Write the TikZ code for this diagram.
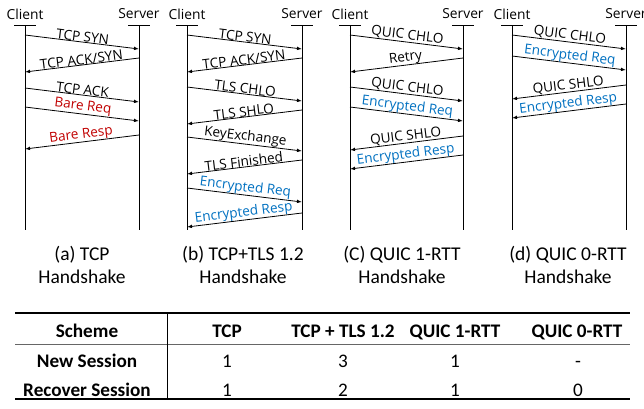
\documentclass[tikz,border=0pt]{standalone}
\usepackage{fontspec}
\setmainfont{Carlito}
\newfontfamily\labelfont{Open Sans}
\usetikzlibrary{arrows.meta}
\definecolor{bareRed}{RGB}{192,0,0}
\definecolor{encBlue}{RGB}{0,112,192}
\tikzstyle{endpoint} = [font=\labelfont\fontsize{13.8}{15}\selectfont, inner sep=0pt]
\tikzstyle{lifeline} = [line width=1pt]
\tikzstyle{message} = [line width=0.8pt, -{Latex[length=5pt,width=3.6pt]}]
\tikzstyle{msgLabel} = [font=\labelfont\fontsize{13.6}{15}\selectfont,
   midway, above, sloped, inner sep=0pt]
\tikzstyle{caption} = [font=\fontsize{19.5}{22.5}\selectfont, align=center]
\tikzstyle{headCell} = [font=\bfseries\fontsize{19.2}{22}\selectfont, anchor=base]
\tikzstyle{numCell} = [font=\fontsize{19.2}{22}\selectfont, anchor=base]

\begin{document}
\begin{tikzpicture}[x=1pt, y=-1pt]
  \useasboundingbox (0,0) rectangle (644,408);

  % client and server of each handshake, with their lifelines
  \foreach \p/\cx/\sx in {a/25/139, b/187/302, c/350/463, d/512/626} {
    \node[endpoint] (\p-client) at (\cx,14) {Client};
    \node[endpoint] (\p-server) at (\sx,14) {Server};
    \coordinate (\p-c) at (\cx,25);
    \coordinate (\p-s) at (\sx,25);
    \draw[lifeline] ([xshift=-11pt]\p-c) -- ([xshift=11pt]\p-c);
    \draw[lifeline] ([xshift=-11pt]\p-s) -- ([xshift=11pt]\p-s);
    \draw[lifeline] (\p-c) -- (\p-c |- 0,230);
    \draw[lifeline] (\p-s) -- (\p-s |- 0,230);
  }

  % (a) plain TCP
  \foreach \y/\src/\dst/\txt/\col in {35/c/s/TCP SYN/black,
      58/s/c/{TCP ACK/SYN}/black, 88/c/s/TCP ACK/black,
      107/c/s/Bare Req/bareRed, 135/s/c/Bare Resp/bareRed}
    \draw[message] (a-\src |- 0,\y) -- node[msgLabel, text=\col] {\txt} (a-\dst |- 0,\y+14);

  % (b) TCP + TLS 1.2
  \foreach \y/\src/\dst/\txt/\col in {35/c/s/TCP SYN/black,
      58/s/c/{TCP ACK/SYN}/black, 87/c/s/TLS CHLO/black,
      110/s/c/TLS SHLO/black, 137/c/s/KeyExchange/black,
      160/s/c/TLS Finished/black, 188/c/s/Encrypted Req/encBlue,
      213/s/c/Encrypted Resp/encBlue}
    \draw[message] (b-\src |- 0,\y) -- node[msgLabel, text=\col] {\txt} (b-\dst |- 0,\y+14);

  % (c) QUIC 1-RTT
  \foreach \y/\src/\dst/\txt/\col in {35/c/s/QUIC CHLO/black,
      58/s/c/Retry/black, 87/c/s/QUIC CHLO/black,
      107/c/s/Encrypted Req/encBlue, 136/s/c/QUIC SHLO/black,
      155/s/c/Encrypted Resp/encBlue}
    \draw[message] (c-\src |- 0,\y) -- node[msgLabel, text=\col] {\txt} (c-\dst |- 0,\y+14);

  % (d) QUIC 0-RTT
  \foreach \y/\src/\dst/\txt/\col in {35/c/s/QUIC CHLO/black,
      56/c/s/Encrypted Req/encBlue, 85/s/c/QUIC SHLO/black,
      104/s/c/Encrypted Resp/encBlue}
    \draw[message] (d-\src |- 0,\y) -- node[msgLabel, text=\col] {\txt} (d-\dst |- 0,\y+14);

  % captions
  \node[caption] (a-cap) at (82,265) {(a) TCP\\Handshake};
  \node[caption] (b-cap) at (243,265) {(b) TCP+TLS 1.2\\Handshake};
  \node[caption] (c-cap) at (402,265) {(C) QUIC 1-RTT\\Handshake};
  \node[caption] (d-cap) at (568,265) {(d) QUIC 0-RTT\\Handshake};

  % table of round trips
  \draw[line width=1.4pt] (15,313) -- (630,313);
  \draw[line width=0.9pt, black!60] (15,344) -- (630,344);
  \draw[line width=1.4pt] (15,399) -- (630,399);
  \draw[line width=0.8pt] (167,313) -- (167,399);

  \node[headCell] (scheme)  at (87,337)  {Scheme};
  \node[headCell] (h-tcp)   at (227,337) {TCP};
  \node[headCell] (h-tls)   at (343,337) {TCP + TLS 1.2};
  \node[headCell] (h-quic1) at (455,337) {QUIC 1-RTT};
  \node[headCell] (h-quic0) at (577,337) {QUIC 0-RTT};

  \node[headCell] (new) at (87,367) {New Session};
  \node[numCell] at (227,367) {1};
  \node[numCell] at (343,367) {3};
  \node[numCell] at (455,367) {1};
  \node[numCell] at (578,367) {-};

  \node[headCell] (recover) at (87,396) {Recover Session};
  \node[numCell] at (227,396) {1};
  \node[numCell] at (343,396) {2};
  \node[numCell] at (455,396) {1};
  \node[numCell] at (578,396) {0};
\end{tikzpicture}
\end{document}
